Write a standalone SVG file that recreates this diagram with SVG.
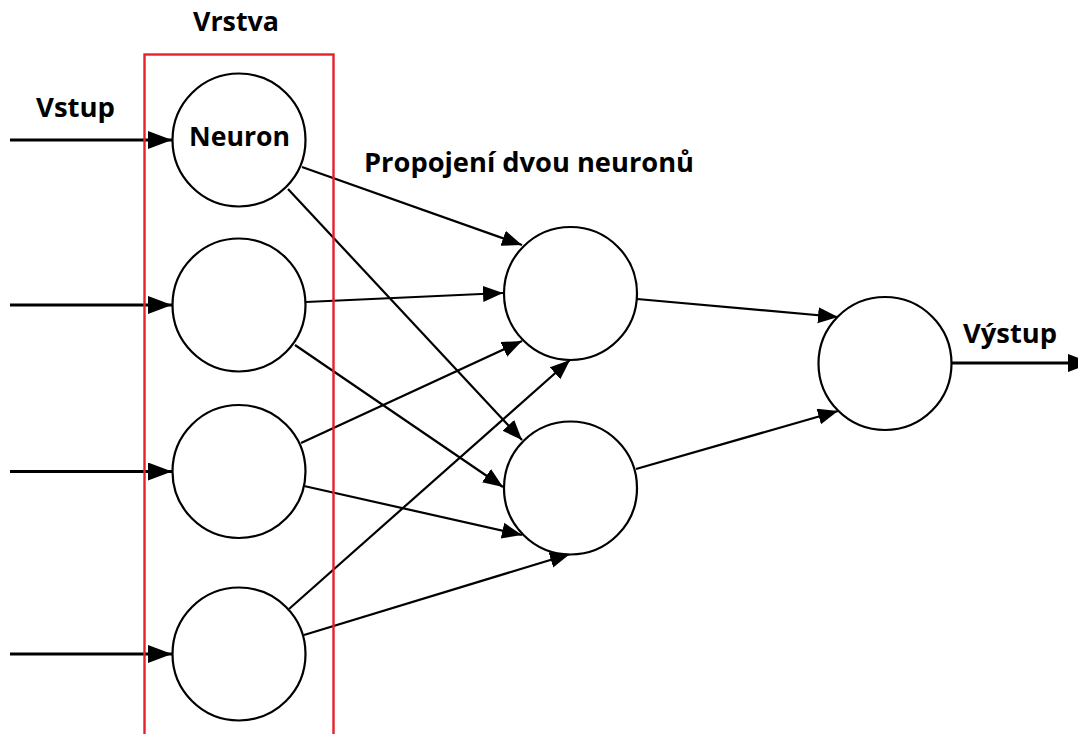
<svg xmlns="http://www.w3.org/2000/svg" width="1078" height="734" viewBox="0 0 1078 734">
  <style>
    .neuron { fill: #ffffff; stroke: #000000; stroke-width: 2.2; }
    .link { fill: none; stroke: #000000; stroke-width: 2.2; marker-end: url(#head); }
    .io { fill: none; stroke: #000000; stroke-width: 3; marker-end: url(#headIo); }
    .label { font-family: "Open Sans", "DejaVu Sans", sans-serif; font-weight: bold; fill: #000000; }
    .layer { fill: none; stroke: #e5222c; stroke-width: 2.4; }
  </style>
  <defs>
    <marker id="head" markerUnits="userSpaceOnUse" markerWidth="22" markerHeight="18" refX="20" refY="8" orient="auto">
      <path d="M0,0 L20,8 L0,16 z" fill="#000000"/>
    </marker>
    <marker id="headIo" markerUnits="userSpaceOnUse" markerWidth="26" markerHeight="20" refX="24" refY="9" orient="auto">
      <path d="M0,0 L24,9 L0,18 z" fill="#000000"/>
    </marker>
  </defs>
  <rect width="1078" height="734" fill="#ffffff"/>

  <!-- connectors -->
  <g id="connectors">
    <line class="io" x1="10" y1="140" x2="172" y2="140"/>
    <line class="io" x1="10" y1="305" x2="172" y2="305"/>
    <line class="io" x1="10" y1="471.5" x2="172" y2="471.5"/>
    <line class="io" x1="10" y1="654" x2="172" y2="654"/>

    <line class="link" x1="302" y1="167" x2="522" y2="245"/>
    <line class="link" x1="288" y1="189" x2="522" y2="440"/>
    <line class="link" x1="306" y1="302" x2="503" y2="293"/>
    <line class="link" x1="295" y1="345" x2="503" y2="487"/>
    <line class="link" x1="301" y1="443" x2="522" y2="341"/>
    <line class="link" x1="304" y1="486" x2="522" y2="535"/>
    <line class="link" x1="289" y1="609" x2="570" y2="360"/>
    <line class="link" x1="304" y1="635" x2="570" y2="554"/>

    <line class="link" x1="637" y1="299" x2="838" y2="317"/>
    <line class="link" x1="636" y1="469" x2="838" y2="411"/>

    <line class="io" x1="952" y1="363" x2="1092" y2="363"/>
  </g>

  <!-- input layer -->
  <g id="n1">
    <circle class="neuron" cx="239" cy="140" r="66.5"/>
    <text class="label" x="239.5" y="146" font-size="27" text-anchor="middle" textLength="101" lengthAdjust="spacingAndGlyphs">Neuron</text>
  </g>
  <g id="n2"><circle class="neuron" cx="239" cy="305" r="66.5"/></g>
  <g id="n3"><circle class="neuron" cx="239" cy="471.5" r="66.5"/></g>
  <g id="n4"><circle class="neuron" cx="239" cy="654" r="66.5"/></g>

  <!-- hidden layer -->
  <g id="h1"><circle class="neuron" cx="570.5" cy="293.5" r="66.5"/></g>
  <g id="h2"><circle class="neuron" cx="570.5" cy="488" r="66.5"/></g>

  <!-- output neuron -->
  <g id="out"><circle class="neuron" cx="885" cy="363.5" r="66.5"/></g>

  <!-- layer frame -->
  <g id="layer">
    <rect class="layer" x="144.5" y="54.5" width="189" height="700"/>
    <text class="label" x="236" y="31" font-size="26" text-anchor="middle" textLength="86" lengthAdjust="spacingAndGlyphs">Vrstva</text>
  </g>

  <!-- labels -->
  <g id="labels">
    <text class="label" x="36" y="117" font-size="26" textLength="79" lengthAdjust="spacingAndGlyphs">Vstup</text>
    <text class="label" x="364" y="172" font-size="26" textLength="330" lengthAdjust="spacingAndGlyphs">Propojení dvou neuronů</text>
    <text class="label" x="963" y="343" font-size="27" textLength="94" lengthAdjust="spacingAndGlyphs">Výstup</text>
  </g>
</svg>
